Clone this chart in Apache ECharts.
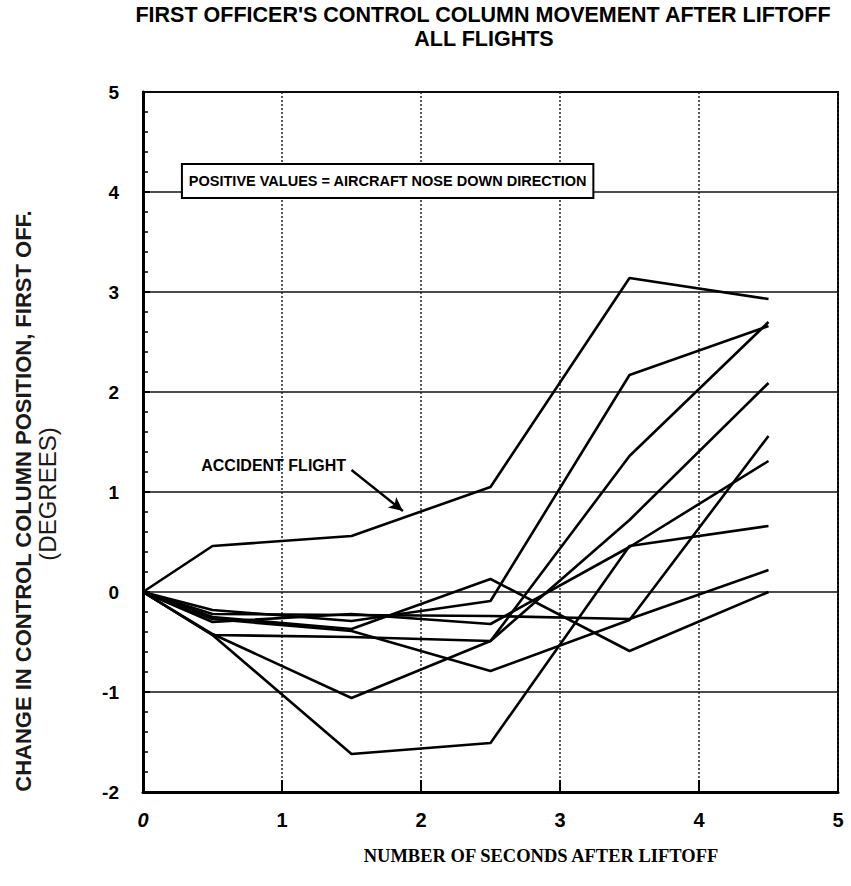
<!DOCTYPE html>
<html>
<head>
<meta charset="utf-8">
<script src="https://cdn.jsdelivr.net/npm/echarts@6/dist/echarts.min.js"></script>
<style>
html,body{margin:0;padding:0;background:#fff;}
#chart{width:851px;height:886px;}
</style>
</head>
<body>
<div id="chart"></div>
<script>
// ---- data ----
const titleLines = ["FIRST OFFICER'S CONTROL COLUMN MOVEMENT AFTER LIFTOFF", "ALL FLIGHTS"];
const xAxisTitle = "NUMBER OF SECONDS AFTER LIFTOFF";
const yAxisTitle1 = "CHANGE IN CONTROL COLUMN POSITION, FIRST OFF.";
const yAxisTitle2 = "(DEGREES)";
const noteText = "POSITIVE VALUES = AIRCRAFT NOSE DOWN DIRECTION";
const accidentText = "ACCIDENT FLIGHT";

const xTicks = [0, 1, 2, 3, 4, 5];
const yTicks = [-2, -1, 0, 1, 2, 3, 4, 5];

const seconds = [0, 0.5, 1.5, 2.5, 3.5, 4.5];
const accidentFlight = [0, 0.46, 0.56, 1.05, 3.14, 2.93];
const flight2 = [0, -0.18, -0.29, -0.09, 2.17, 2.66];
const flight3 = [0, -0.43, -0.45, -0.49, 1.36, 2.70];
const flight4 = [0, -0.42, -1.06, -0.49, 0.72, 2.09];
const flight5 = [0, -0.30, -0.22, -0.32, 0.45, 1.31];
const flight6 = [0, -0.22, -0.23, -0.24, -0.27, 0.22];
const flight7 = [0, -0.27, -0.39, -0.79, -0.28, 1.56];
const flight8 = [0, -0.25, -0.37, 0.13, -0.59, 0.00];
const flight9 = [0, -0.43, -1.62, -1.51, 0.46, 0.66];

// annotation anchors (data coordinates)
const noteBox = [[0.28, 4.28], [3.24, 3.94]];
const accidentLabelAt = [0.94, 1.27];
const arrowFrom = [1.50, 1.22];
const arrowTo = [1.87, 0.81];

const SANS = "'Liberation Sans', Arial, Helvetica, sans-serif";
const SERIF = "'Liberation Serif', 'Times New Roman', serif";

const flights = [flight2, flight3, flight4, flight5, flight6, flight7, flight8, flight9];

function pairs(ys) { return seconds.map((x, i) => [x, ys[i]]); }

const lineStyleCommon = { color: '#000', width: 2.6 };

const series = flights.map((f, i) => ({
  name: 'flight' + (i + 2),
  type: 'line',
  data: pairs(f),
  showSymbol: false,
  symbol: 'none',
  lineStyle: lineStyleCommon,
  z: 3
}));

series.push({
  name: 'accident',
  type: 'line',
  data: pairs(accidentFlight),
  showSymbol: false,
  symbol: 'none',
  lineStyle: lineStyleCommon,
  z: 4,
  markLine: {
    silent: true,
    symbol: ['none', 'arrow'],
    symbolSize: [10, 14],
    lineStyle: { color: '#000', width: 2.4, type: 'solid' },
    label: { show: false },
    data: [[{ coord: arrowFrom }, { coord: arrowTo }]]
  },
  markPoint: {
    silent: true,
    symbol: 'rect',
    symbolSize: 0,
    label: {
      show: true, position: 'inside', formatter: accidentText,
      color: '#000', fontFamily: SANS, fontWeight: 'bold', fontSize: 16
    },
    data: [{ coord: accidentLabelAt }]
  },
  markArea: {
    silent: true,
    itemStyle: { color: '#fff', borderColor: '#000', borderWidth: 2, opacity: 1 },
    label: {
      show: true, position: 'inside', formatter: noteText,
      color: '#000', fontFamily: SANS, fontWeight: 'bold', fontSize: 14.5
    },
    data: [[{ coord: noteBox[0] }, { coord: noteBox[1] }]]
  }
});

const chart = echarts.init(document.getElementById('chart'), null, { renderer: 'svg' });
chart.setOption({
  backgroundColor: '#fff',
  animation: false,
  grid: {
    left: 143, top: 92, width: 695, height: 700,
    show: true, borderColor: '#000', borderWidth: 2, backgroundColor: 'transparent'
  },
  xAxis: {
    type: 'value', min: xTicks[0], max: xTicks[xTicks.length - 1], interval: 1,
    axisLine: { show: true, onZero: false, lineStyle: { color: '#000', width: 3 } },
    axisTick: { show: true, inside: true, length: 12, lineStyle: { color: '#000', width: 2 } },
    splitLine: { show: true, lineStyle: { color: '#222', width: 1.5, type: [2, 2] } },
    axisLabel: {
      margin: 18,
      formatter: v => (v === 0 ? '{i|' + v + '}' : '{b|' + v + '}'),
      rich: {
        i: { fontFamily: SANS, fontWeight: 'bold', fontStyle: 'italic', fontSize: 20, color: '#000' },
        b: { fontFamily: SANS, fontWeight: 'bold', fontSize: 20, color: '#000' }
      }
    }
  },
  yAxis: {
    type: 'value', min: yTicks[0], max: yTicks[yTicks.length - 1], interval: 1,
    axisLine: { show: true, onZero: false, lineStyle: { color: '#000', width: 3 } },
    axisTick: { show: true, inside: true, length: 7, lineStyle: { color: '#000', width: 2 } },
    minorTick: { show: true, splitNumber: 5, length: 5, lineStyle: { color: '#000', width: 1.5 } },
    splitLine: { show: true, lineStyle: { color: '#111', width: 1.6 } },
    axisLabel: { margin: 24, fontFamily: SANS, fontWeight: 'bold', fontSize: 19, color: '#000' }
  },
  graphic: [
    { type: 'text', x: 483, y: 15, style: { text: titleLines[0], fill: '#000', font: 'bold 21.5px ' + SANS, textAlign: 'center', textVerticalAlign: 'middle' } },
    { type: 'text', x: 484, y: 39, style: { text: titleLines[1], fill: '#000', font: 'bold 21.5px ' + SANS, textAlign: 'center', textVerticalAlign: 'middle' } },
    { type: 'text', x: 541, y: 856, style: { text: xAxisTitle, fill: '#000', font: 'bold 18.5px ' + SERIF, textAlign: 'center', textVerticalAlign: 'middle' } },
    { type: 'text', x: 23, y: 501, rotation: Math.PI / 2, style: { text: yAxisTitle1, fill: '#1a1a1a', font: 'bold 22px ' + SANS, textAlign: 'center', textVerticalAlign: 'middle' } },
    { type: 'text', x: 47, y: 494, rotation: Math.PI / 2, style: { text: yAxisTitle2, fill: '#1a1a1a', font: '24px ' + SANS, textAlign: 'center', textVerticalAlign: 'middle' } }
  ],
  series: series
});
</script>
</body>
</html>
